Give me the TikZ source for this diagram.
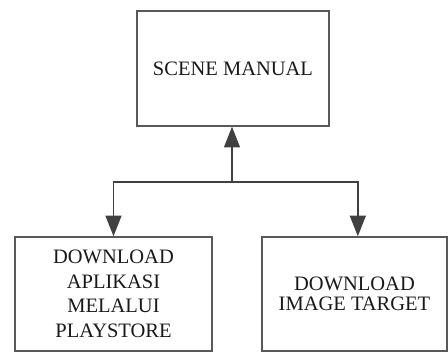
\documentclass[tikz,border=0pt]{standalone}
\usepackage{fontspec}
\setmainfont{Liberation Serif}
\usetikzlibrary{arrows.meta}
\begin{document}
\begin{tikzpicture}[
    x=0.03cm, y=-0.03cm,
    box/.style={rectangle, draw=black!65, line width=1.3pt, align=center,
        font=\fontsize{17.5}{21}\selectfont, text=black!90, inner sep=0pt},
    link/.style={draw=black!75, line width=1.3pt},
    arrowlink/.style={link, -{Triangle[length=0.62cm,width=0.48cm]}}
    ]
\useasboundingbox (0,0) rectangle (448,353);

\node[box, minimum width=5.76cm, minimum height=3.45cm] (scene) at (233,68.5) {SCENE MANUAL};
\node[box, minimum width=5.91cm, minimum height=3.42cm] (aplikasi) at (113.5,294)
    {DOWNLOAD\\APLIKASI\\MELALUI\\PLAYSTORE};
\node[box, minimum width=5.55cm, minimum height=3.42cm] (target) at (354.5,294)
    {\raisebox{-4pt}{\shortstack{DOWNLOAD\\[2pt]IMAGE TARGET}}};

\coordinate (split) at (232,182);
\draw[arrowlink] (split) -- (scene.south -| split);
\draw[arrowlink] (split) -| (aplikasi.north);
\draw[arrowlink] (split) -| ([xshift=0.1cm]target.north);
\end{tikzpicture}
\end{document}
